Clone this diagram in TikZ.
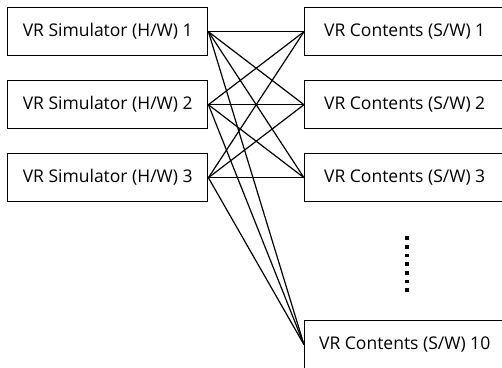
\documentclass[tikz,border=0pt]{standalone}
\usepackage{fontspec}
\setmainfont{Open Sans}
\usetikzlibrary{positioning}
\tikzset{
  every picture/.style={font=\fontsize{17.5}{20}\selectfont, line width=1pt},
  unit/.style={draw, line width=1.4pt, minimum width=200pt, minimum height=48pt, inner sep=0pt, anchor=north west},
  link/.style={draw, line width=1.2pt},
  dot/.style={fill, minimum size=3.6pt, inner sep=0pt},
}
\begin{document}
\begin{tikzpicture}[x=1pt, y=-1pt]
  \useasboundingbox (0,0) rectangle (502,367);
  \clip (0,0) rectangle (502,367);
  % simulators (left) and contents (right)
  \foreach \y [count=\i] in {7,80,153} {
    \node[unit] (sim\i) at (7,\y) {VR Simulator (H/W) \i};
    \node[unit] (con\i) at (304,\y) {VR Contents (S/W) \i};
  }
  \node[unit] (con10) at (304,320) {VR Contents (S/W) 10};
  % dots between 3 and 10
  \foreach \k in {0,...,6}
    \node[dot] (gap\k) at (407,238+8.7*\k) {};
  % every simulator to every contents
  \foreach \i in {1,2,3}
    \foreach \j in {1,2,3,10}
      \draw[link] (sim\i.east) -- (con\j.west);
\end{tikzpicture}
\end{document}
